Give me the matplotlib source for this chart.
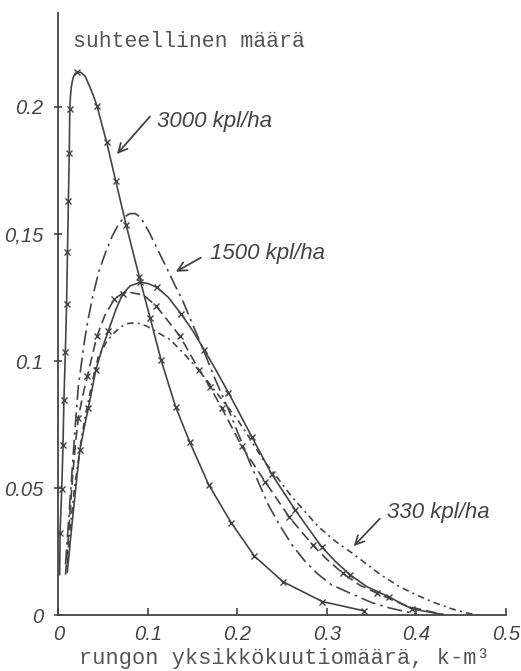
import numpy as np
import matplotlib
matplotlib.use("Agg")
import matplotlib.pyplot as plt

# (x = unit volume, y = relative amount)
x3000 = [0.0015, 0.0019, 0.0038, 0.0052, 0.0062, 0.0078, 0.0092, 0.0102, 0.0112, 0.0122,
         0.0128, 0.0135, 0.0145, 0.0165, 0.0185, 0.0206, 0.025, 0.03, 0.035, 0.039,
         0.043, 0.054, 0.064, 0.0756, 0.0905, 0.1025, 0.1147, 0.131, 0.147, 0.168,
         0.193, 0.219, 0.251, 0.295, 0.341]
y3000 = [0.016, 0.0325, 0.0496, 0.067, 0.0845, 0.1034, 0.1224, 0.143, 0.163, 0.182,
         0.199, 0.204, 0.208, 0.2115, 0.213, 0.2136, 0.2136, 0.212, 0.208, 0.2045,
         0.2005, 0.186, 0.171, 0.1537, 0.133, 0.117, 0.1005, 0.082, 0.068, 0.0513,
         0.0365, 0.0233, 0.0132, 0.0054, 0.0018]
mark3000 = [1, 2, 3, 4, 5, 6, 7, 8, 9, 10, 15, 20, 21, 22, 23, 24, 25, 26, 27, 28, 29, 30, 31, 32, 33, 34]

x1500 = [0.008, 0.010, 0.012, 0.014, 0.016, 0.019, 0.0223, 0.025, 0.029, 0.033, 0.0384,
         0.045, 0.053, 0.06, 0.066, 0.073, 0.080, 0.086, 0.092, 0.101, 0.11, 0.121, 0.13,
         0.1386, 0.15, 0.162, 0.175, 0.19, 0.202, 0.214, 0.2346, 0.248, 0.261, 0.275,
         0.289, 0.305, 0.326, 0.35, 0.371, 0.40]
y1500 = [0.02, 0.03, 0.04, 0.05, 0.06, 0.075, 0.090, 0.097, 0.1075, 0.116, 0.1254,
         0.135, 0.143, 0.149, 0.153, 0.1565, 0.158, 0.158, 0.1565, 0.151, 0.1445, 0.1366, 0.130,
         0.124, 0.1145, 0.1044, 0.093, 0.081, 0.0705, 0.060, 0.0434, 0.035, 0.0277, 0.0215,
         0.0165, 0.012, 0.0087, 0.005, 0.0028, 0.0005]

xc = [0.010, 0.015, 0.020, 0.024, 0.029, 0.0335, 0.0418, 0.049, 0.056, 0.064, 0.072,
      0.08, 0.0913, 0.10, 0.11, 0.123, 0.137, 0.15, 0.163, 0.176, 0.19, 0.203, 0.216,
      0.2384, 0.2645, 0.294, 0.31, 0.326, 0.345, 0.369, 0.395, 0.43]
yc = [0.017, 0.035, 0.052, 0.065, 0.074, 0.0815, 0.0963, 0.105, 0.112, 0.12, 0.1265,
      0.1295, 0.131, 0.1305, 0.129, 0.125, 0.1186, 0.112, 0.1044, 0.0965, 0.0876, 0.079, 0.0703,
      0.0555, 0.0415, 0.027, 0.021, 0.0159, 0.0112, 0.0073, 0.0025, 0.0003]
markc = [3, 5, 6, 8, 10, 12, 14, 16, 18, 20, 22, 23, 24, 25, 27, 29, 30]

xd = [0.008, 0.010, 0.012, 0.016, 0.019, 0.0223, 0.027, 0.0324, 0.043, 0.052, 0.0626,
      0.071, 0.080, 0.095, 0.109, 0.122, 0.136, 0.1575, 0.1695, 0.1826, 0.205, 0.231,
      0.258, 0.284, 0.3, 0.318, 0.336, 0.356, 0.39, 0.43]
yd = [0.016, 0.025, 0.035, 0.055, 0.067, 0.0776, 0.086, 0.094, 0.1097, 0.118, 0.1244,
      0.1265, 0.127, 0.126, 0.1218, 0.116, 0.1097, 0.0963, 0.0898, 0.0815, 0.0664, 0.0526,
      0.0386, 0.0277, 0.022, 0.0165, 0.012, 0.0087, 0.0035, 0.0003]
markd = [5, 7, 8, 10, 14, 16, 17, 18, 19, 20, 21, 22, 23, 25, 27]

x330 = [0.010, 0.012, 0.015, 0.018, 0.022, 0.026, 0.03, 0.038, 0.0447, 0.054, 0.062,
        0.07, 0.078, 0.085, 0.092, 0.10, 0.112, 0.125, 0.14, 0.158, 0.178, 0.2, 0.215,
        0.229, 0.245, 0.26, 0.275, 0.29, 0.31, 0.328, 0.345, 0.36, 0.38, 0.40, 0.42,
        0.44, 0.455, 0.47]
y330 = [0.02, 0.03, 0.04, 0.05, 0.06, 0.07, 0.078, 0.092, 0.1018, 0.1077, 0.111,
        0.1135, 0.1148, 0.115, 0.1147, 0.1135, 0.111, 0.1084, 0.103, 0.096, 0.087, 0.077, 0.069,
        0.061, 0.054, 0.047, 0.041, 0.035, 0.029, 0.0245, 0.020, 0.016, 0.0115, 0.008, 0.005,
        0.0025, 0.001, 0.0]

yticks = [0, 0.05, 0.1, 0.15, 0.2]
ylabels = ["0", "0.05", "0.1", "0,15", "0.2"]
xticks = [0, 0.1, 0.2, 0.3, 0.4, 0.5]
xlabels = ["0", "0.1", "0.2", "0.3", "0.4", "0.5"]

ink = "#444444"
hand = dict(family="Liberation Sans", style="italic", color=ink)
mono = dict(family="Liberation Mono", color="#555555")

fig = plt.figure(figsize=(5.21, 6.71), dpi=100)
ax = fig.add_axes([0.112, 0.083, 0.859, 0.898])

lw = 1.2
mk = dict(marker='x', ms=4, mew=1)
ax.plot(x3000, y3000, '-', color=ink, lw=lw, markevery=mark3000, **mk)
ax.plot(x1500, y1500, color=ink, lw=lw, dashes=(9, 3, 1.5, 3))
ax.plot(xc, yc, '-', color=ink, lw=lw, markevery=markc, **mk)
ax.plot(xd, yd, color=ink, lw=lw, dashes=(6, 3), markevery=markd, **mk)
ax.plot(x330, y330, color=ink, lw=lw, dashes=(4, 2.5, 1.2, 2.5))

ax.set_xlim(0, 0.5)
ax.set_ylim(0, 0.237)
for s in ["top", "right"]:
    ax.spines[s].set_visible(False)
for s in ["left", "bottom"]:
    ax.spines[s].set_color(ink)
    ax.spines[s].set_linewidth(1.3)

ax.set_xticks(xticks)
ax.set_xticklabels(xlabels, fontsize=14.5, **hand)
ax.set_yticks(yticks)
ax.set_yticklabels(ylabels, fontsize=14.5, **hand)
ax.tick_params(axis="x", direction="in", length=5, width=1.2, color=ink, pad=7)
ax.tick_params(axis="y", direction="inout", length=6, width=1.2, color=ink, pad=8)

# labels drawn inside the frame like the typewritten original
ax.text(0.016, 0.2234, "suhteellinen määrä", fontsize=15.5, ha="left", va="baseline", **mono)
fig.text(0.545, 0.003, "rungon yksikkökuutiomäärä, k-m³", fontsize=15.8, ha="center", va="bottom", **mono)

# curve labels with arrows
arrow = dict(arrowstyle="->", color=ink, lw=1.3, mutation_scale=16)
ax.text(0.110, 0.1922, "3000 kpl/ha", fontsize=16, ha="left", va="baseline", **hand)
ax.annotate("", xy=(0.0634, 0.1806), xytext=(0.1044, 0.197), arrowprops=arrow)
ax.text(0.1695, 0.1402, "1500 kpl/ha", fontsize=16, ha="left", va="baseline", **hand)
ax.annotate("", xy=(0.1285, 0.1346), xytext=(0.162, 0.1412), arrowprops=arrow)
ax.text(0.367, 0.0382, "330 kpl/ha", fontsize=16, ha="left", va="baseline", **hand)
ax.annotate("", xy=(0.3278, 0.0264), xytext=(0.3613, 0.0388), arrowprops=arrow)

fig.savefig("out.png", dpi=100)
